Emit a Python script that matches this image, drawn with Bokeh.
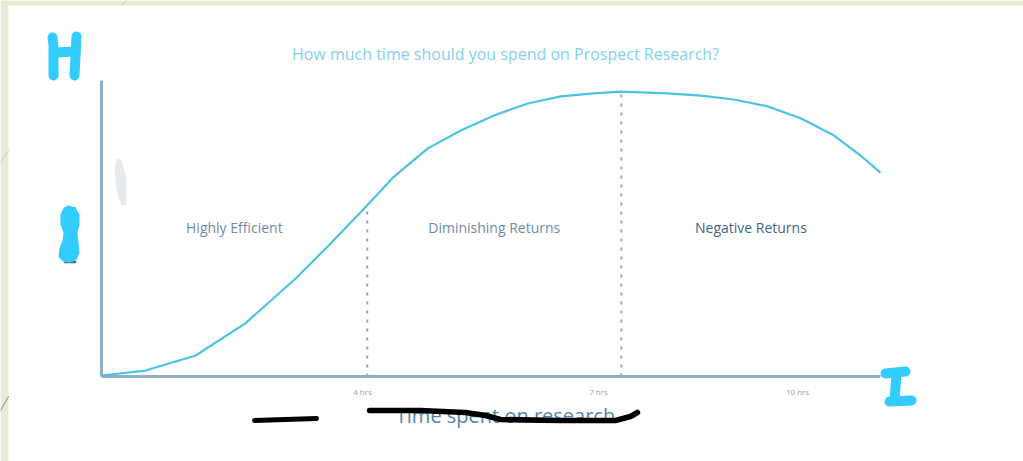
import numpy as np
from bokeh.plotting import figure
from bokeh.models import Range1d
from bokeh.embed import file_html
from bokeh.resources import INLINE
from bokeh.core.properties import value

# ---------------- data ----------------
title_text = "How much time should you spend on Prospect Research?"
x_label = "Time spent on research"
y_label = "Results"

curve_x = [0.68, 1.24, 1.88, 2.51, 3.15, 3.57, 4.00, 4.25, 4.39, 4.83, 5.25,
           5.67, 6.10, 6.52, 6.94, 7.28, 7.88, 8.30, 8.72, 9.15, 9.57, 9.99,
           10.33, 10.585]
curve_y = [0.35, 2.1, 7.4, 18.7, 34.5, 46.1, 58.5, 65.9, 70.1, 80.3, 86.6,
           91.9, 96.1, 98.6, 99.7, 100.3, 99.7, 98.9, 97.5, 95.1, 90.9, 84.9,
           77.8, 71.8]

zone_bounds = [0.682, 4.06, 7.29, 10.585]
zone_names = ["Highly Efficient", "Diminishing Returns", "Negative Returns"]

tick_pos = [4.0, 7.0, 9.53]
tick_labels = ["4 hrs", "7 hrs", "10 hrs"]

y_top = 104.2

# ---------------- scale set-up ----------------
# plot area (axes box) in page pixels
FL, FR, FT, FB = 101, 880, 80, 376
AX0, AX1 = zone_bounds[0], zone_bounds[-1]
kx = (FR - FL) / (AX1 - AX0)
ky = (FB - FT) / (y_top - 0.0)
W, H = 1023, 461
x_range = Range1d(AX0 - FL / kx, AX1 + (W - FR) / kx)
y_range = Range1d(0.0 - (H - FB) / ky, y_top + FT / ky)

def px(x, y):
    """page pixel -> data coordinates (decorations only)"""
    return AX0 + (x - FL) / kx, (FB - y) / ky

p = figure(width=W, height=H, output_backend="svg", toolbar_location=None,
           x_range=x_range, y_range=y_range, min_border=0)
p.outline_line_color = None
p.background_fill_color = "white"
p.border_fill_color = "white"
p.xaxis.visible = False
p.yaxis.visible = False
p.xgrid.visible = False
p.ygrid.visible = False

font = value("Open Sans")

# ---------------- page background ----------------
beige = "#e8ebd6"
def patch_px(points, **kw):
    xs, ys = zip(*[px(a, b) for a, b in points])
    p.patch(list(xs), list(ys), **kw)

def stroke_px(points, color, width):
    xs, ys = zip(*[px(a, b) for a, b in points])
    p.line(list(xs), list(ys), line_color=color, line_width=width,
           line_cap="round", line_join="round")

patch_px([(0, 0), (8, 0), (8, 461), (0, 461)], fill_color=beige, line_color=None)
patch_px([(0, 0), (1023, 0), (1023, 5), (0, 5)], fill_color=beige, line_color=None)
stroke_px([(0, 162), (8, 150)], "#c9ccb8", 1)
stroke_px([(0, 410), (8, 396)], "#8c8a78", 1)
stroke_px([(121, 5), (126, 0)], "#c9ccb8", 1)

# ---------------- axes ----------------
axis_col = "#93adc1"
p.segment(x0=[AX0], y0=[0], x1=[AX0], y1=[y_top], line_color=axis_col,
          line_width=3)
p.segment(x0=[AX0], y0=[0], x1=[AX1], y1=[0], line_color=axis_col,
          line_width=3)
p.text(x=tick_pos, y=[-5.3] * len(tick_pos), text=tick_labels,
       text_align="center", text_baseline="middle", text_font=font,
       text_font_size="8px", text_color="#9aa3ab")
xl_x, xl_y = px(505, 415)
p.text(x=[xl_x], y=[xl_y], text=[x_label], text_align="center",
       text_baseline="middle", text_font=font, text_font_size="20px",
       text_color="#4f86ad")
yl_x, yl_y = px(69, 235)
p.text(x=[yl_x], y=[yl_y], text=[y_label], angle=np.pi / 2,
       text_align="center", text_baseline="middle", text_font=font,
       text_font_size="16px", text_font_style="bold", text_color="#4d6c88")

# title
tt_x, tt_y = px(505, 53)
p.text(x=[tt_x], y=[tt_y], text=[title_text], text_align="center",
       text_baseline="middle", text_font=font, text_font_size="16px",
       text_color="#86d0ea")

# ---------------- data marks ----------------
p.line(curve_x, curve_y, line_color="#4cc3e3", line_width=2.2,
       line_join="round")

inner = zone_bounds[1:-1]
tops = list(np.interp(inner, curve_x, curve_y))
p.segment(x0=inner, y0=[0] * len(inner), x1=inner, y1=tops,
          line_color="#8fa9bd", line_width=2, line_dash="3 6")

zx = [(a + b) / 2 for a, b in zip(zone_bounds[:-1], zone_bounds[1:])]
p.text(x=zx, y=[52.5] * 3, text=zone_names, text_align="center",
       text_baseline="middle", text_font=font, text_font_size="14px",
       text_color=["#6f8ca5", "#6f8ca5", "#3f6788"])

# ---------------- hand-drawn marks on the slide ----------------
# faint grey smudge
patch_px([(116, 158), (121, 160), (126, 178), (126, 204), (121, 205),
          (116, 190), (114, 170)], fill_color="#d3d8dc", fill_alpha=0.55,
         line_color=None)

cyan = "#33ccff"
# "H"
stroke_px([(52, 37), (53, 45)], cyan, 10)
stroke_px([(53, 48), (53, 75)], cyan, 10)
stroke_px([(76, 36), (74, 75)], cyan, 10)
stroke_px([(55, 52), (75, 51)], cyan, 10)
# "I"
stroke_px([(885, 373), (905, 371)], cyan, 10)
stroke_px([(896, 374), (894, 399)], cyan, 10)
stroke_px([(889, 401), (911, 400)], cyan, 10)
# blob over the y label
patch_px([(68, 206), (74, 208), (78, 214), (78, 224), (76, 232), (77, 242),
          (78, 252), (75, 259), (69, 261), (63, 260), (59, 256), (60, 248),
          (63, 240), (64, 232), (61, 224), (61, 214), (64, 208)],
         fill_color=cyan, line_color=cyan, line_width=2)

# black scribbles
stroke_px([(254, 420), (316, 418)], "black", 5)
stroke_px([(369, 410), (420, 410), (465, 412), (485, 415), (500, 419),
           (560, 420), (615, 420), (630, 416), (637, 412)], "black", 5.5)

open("out.html", "w").write(file_html(p, INLINE))
